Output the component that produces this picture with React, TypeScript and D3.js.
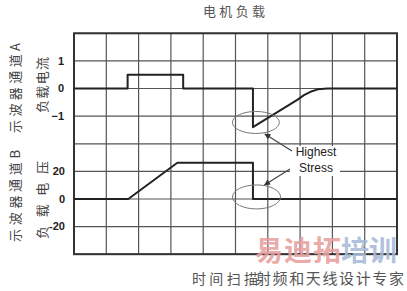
import React from "react";
import * as d3 from "d3";

const W = 407;
const H = 291;

// time axis in divisions
const xDivisions = [0, 1, 2, 3, 4, 5, 6, 7, 8, 9, 10];
// channel A (current) grid levels and ticks
const gridA = [2, 1, 0, -1];
const ticksA = [1, 0, -1];
const tickLabelsA = ["1", "0", "−1"];
// channel B (voltage) grid levels and ticks
const gridB = [40, 20, 0, -20, -40];
const ticksB = [20, 0, -20];
const tickLabelsB = ["20", "0", "-20"];

// traces (time in divisions, value in units)
const traceA_t = [0, 1.66, 1.66, 3.38, 3.38, 5.54, 5.54, 6.9, 7.12, 7.32, 7.55, 7.85, 10];
const traceA_v = [0, 0, 0.5, 0.5, 0, 0, -1.4, -0.42, -0.24, -0.12, -0.03, 0, 0];
const traceB_t = [0, 1.68, 3.2, 5.54, 5.54, 10];
const traceB_v = [0, 0, 26.3, 26.3, 0, 0];

// annotations
const ellipseA = { t: 5.63, v: -1.23 };
const ellipseB = { t: 5.65, v: 1.5 };
const noteLines = ["Highest", "Stress"];

const title = "电机负载";
const labelA1 = "示波器通道A";
const labelA2 = "负载电流";
const labelB1 = "示波器通道B";
const labelB2 = "负载电压";
const xLabel = "时间扫描";
const footer = "射频和天线设计专家";
const wm1 = "易迪拓";
const wm2 = "培训";

export default function App() {
  const x = d3.scaleLinear().domain([0, 10]).range([74, 397]);
  const yA = d3.scaleLinear().domain([-2, 2]).range([143.7, 33.3]);
  const yB = d3.scaleLinear().domain([-40, 40]).range([254.2, 143.8]);

  const lineA = d3
    .line<number>()
    .x((_, i) => x(traceA_t[i]))
    .y((d) => yA(d));
  const lineB = d3
    .line<number>()
    .x((_, i) => x(traceB_t[i]))
    .y((d) => yB(d));

  const gridColor = "#555";
  const cjk = "'Noto Sans CJK SC', sans-serif";

  const eAx = x(ellipseA.t);
  const eAy = yA(ellipseA.v);
  const eBx = x(ellipseB.t);
  const eBy = yB(ellipseB.v);

  return (
    <svg
      width={W}
      height={H}
      style={{ position: "absolute", left: 0, top: 0, background: "#fff" }}
    >
      <defs>
        <marker
          id="ah"
          viewBox="0 0 10 10"
          refX="9"
          refY="5"
          markerWidth="7"
          markerHeight="5"
          orient="auto"
        >
          <path d="M0,0 L10,5 L0,10 z" fill="#333" />
        </marker>
      </defs>
      <rect width={W} height={H} fill="#fff" />
      {/* title */}
      <text
        x={234}
        y={16}
        textAnchor="middle"
        fontFamily={cjk}
        fontSize={13}
        fill="#555"
        textLength={62}
        lengthAdjust="spacing"
      >
        {title}
      </text>

      {/* grid */}
      {xDivisions.map((d) => (
        <line
          key={"v" + d}
          x1={x(d)}
          x2={x(d)}
          y1={yA(2)}
          y2={yB(-40)}
          stroke={gridColor}
          strokeWidth={1.2}
        />
      ))}
      {gridA.map((d) => (
        <line
          key={"ha" + d}
          x1={x(0)}
          x2={x(10)}
          y1={yA(d)}
          y2={yA(d)}
          stroke={gridColor}
          strokeWidth={1.2}
        />
      ))}
      {gridB.map((d) => (
        <line
          key={"hb" + d}
          x1={x(0)}
          x2={x(10)}
          y1={yB(d)}
          y2={yB(d)}
          stroke={gridColor}
          strokeWidth={1.2}
        />
      ))}
      <rect
        x={x(0)}
        y={yA(2)}
        width={x(10) - x(0)}
        height={yB(-40) - yA(2)}
        fill="none"
        stroke="#333"
        strokeWidth={2}
      />

      {/* tick labels */}
      {ticksA.map((d, i) => (
        <text
          key={"ta" + d}
          x={64}
          y={yA(d)}
          dy="0.35em"
          textAnchor="end"
          fontFamily="'Liberation Sans', Arial, sans-serif"
          fontWeight="bold"
          fontSize={11}
          fill="#222"
        >
          {tickLabelsA[i]}
        </text>
      ))}
      {ticksB.map((d, i) => (
        <text
          key={"tb" + d}
          x={65}
          y={yB(d)}
          dy="0.35em"
          textAnchor="end"
          fontFamily="'Liberation Sans', Arial, sans-serif"
          fontWeight="bold"
          fontSize={11}
          fill="#222"
        >
          {tickLabelsB[i]}
        </text>
      ))}

      {/* side labels */}
      <text
        transform="translate(20,88) rotate(-90)"
        textAnchor="middle"
        fontFamily={cjk}
        fontSize={13}
        fill="#444"
        textLength={90}
        lengthAdjust="spacing"
      >
        {labelA1}
      </text>
      <text
        transform="translate(47,85) rotate(-90)"
        textAnchor="middle"
        fontFamily={cjk}
        fontSize={13}
        fill="#444"
        textLength={56}
        lengthAdjust="spacing"
      >
        {labelA2}
      </text>
      <text
        transform="translate(20,196) rotate(-90)"
        textAnchor="middle"
        fontFamily={cjk}
        fontSize={13}
        fill="#444"
        textLength={92}
        lengthAdjust="spacing"
      >
        {labelB1}
      </text>
      <text
        transform="translate(47,200) rotate(-90)"
        textAnchor="middle"
        fontFamily={cjk}
        fontSize={13}
        fill="#444"
        textLength={78}
        lengthAdjust="spacing"
      >
        {labelB2}
      </text>

      {/* traces */}
      <path
        d={lineA(traceA_v) || ""}
        fill="none"
        stroke="#222"
        strokeWidth={2}
        strokeLinejoin="round"
      />
      <path
        d={lineB(traceB_v) || ""}
        fill="none"
        stroke="#222"
        strokeWidth={2}
        strokeLinejoin="round"
      />

      {/* annotations */}
      <ellipse cx={eAx} cy={eAy} rx={23.5} ry={11} fill="none" stroke="#777" strokeWidth={1} />
      <ellipse cx={eBx} cy={eBy} rx={24} ry={12} fill="none" stroke="#777" strokeWidth={1} />
      <rect x={290} y={146} width={50} height={30} fill="#fff" />
      <text
        x={316}
        y={156}
        textAnchor="middle"
        fontFamily="'Liberation Sans', Arial, sans-serif"
        fontSize={12}
        fill="#222"
      >
        {noteLines[0]}
      </text>
      <text
        x={316}
        y={172}
        textAnchor="middle"
        fontFamily="'Liberation Sans', Arial, sans-serif"
        fontSize={12}
        fill="#222"
      >
        {noteLines[1]}
      </text>
      <line
        x1={292}
        y1={151}
        x2={eAx + 9}
        y2={eAy + 11.5}
        stroke="#444"
        strokeWidth={1.2}
        markerEnd="url(#ah)"
      />
      <line
        x1={290}
        y1={169}
        x2={eBx + 8}
        y2={eBy - 12}
        stroke="#444"
        strokeWidth={1.2}
        markerEnd="url(#ah)"
      />

      {/* watermark */}
      <text
        x={255}
        y={261}
        fontFamily={cjk}
        fontWeight="bold"
        fontSize={28}
        fill="#e8a0a0"
        fillOpacity={0.9}
        textLength={86}
        lengthAdjust="spacing"
      >
        {wm1}
      </text>
      <text
        x={341}
        y={261}
        fontFamily={cjk}
        fontWeight="bold"
        fontSize={28}
        fill="#a8b9d8"
        fillOpacity={0.9}
        textLength={56}
        lengthAdjust="spacing"
      >
        {wm2}
      </text>

      {/* bottom text */}
      <text
        x={192}
        y={284}
        fontFamily={cjk}
        fontSize={14}
        fill="#555"
        textLength={66}
        lengthAdjust="spacing"
      >
        {xLabel}
      </text>
      <text
        x={256}
        y={284}
        fontFamily={cjk}
        fontSize={15}
        fill="#555"
        textLength={148}
        lengthAdjust="spacing"
      >
        {footer}
      </text>
    </svg>
  );
}
